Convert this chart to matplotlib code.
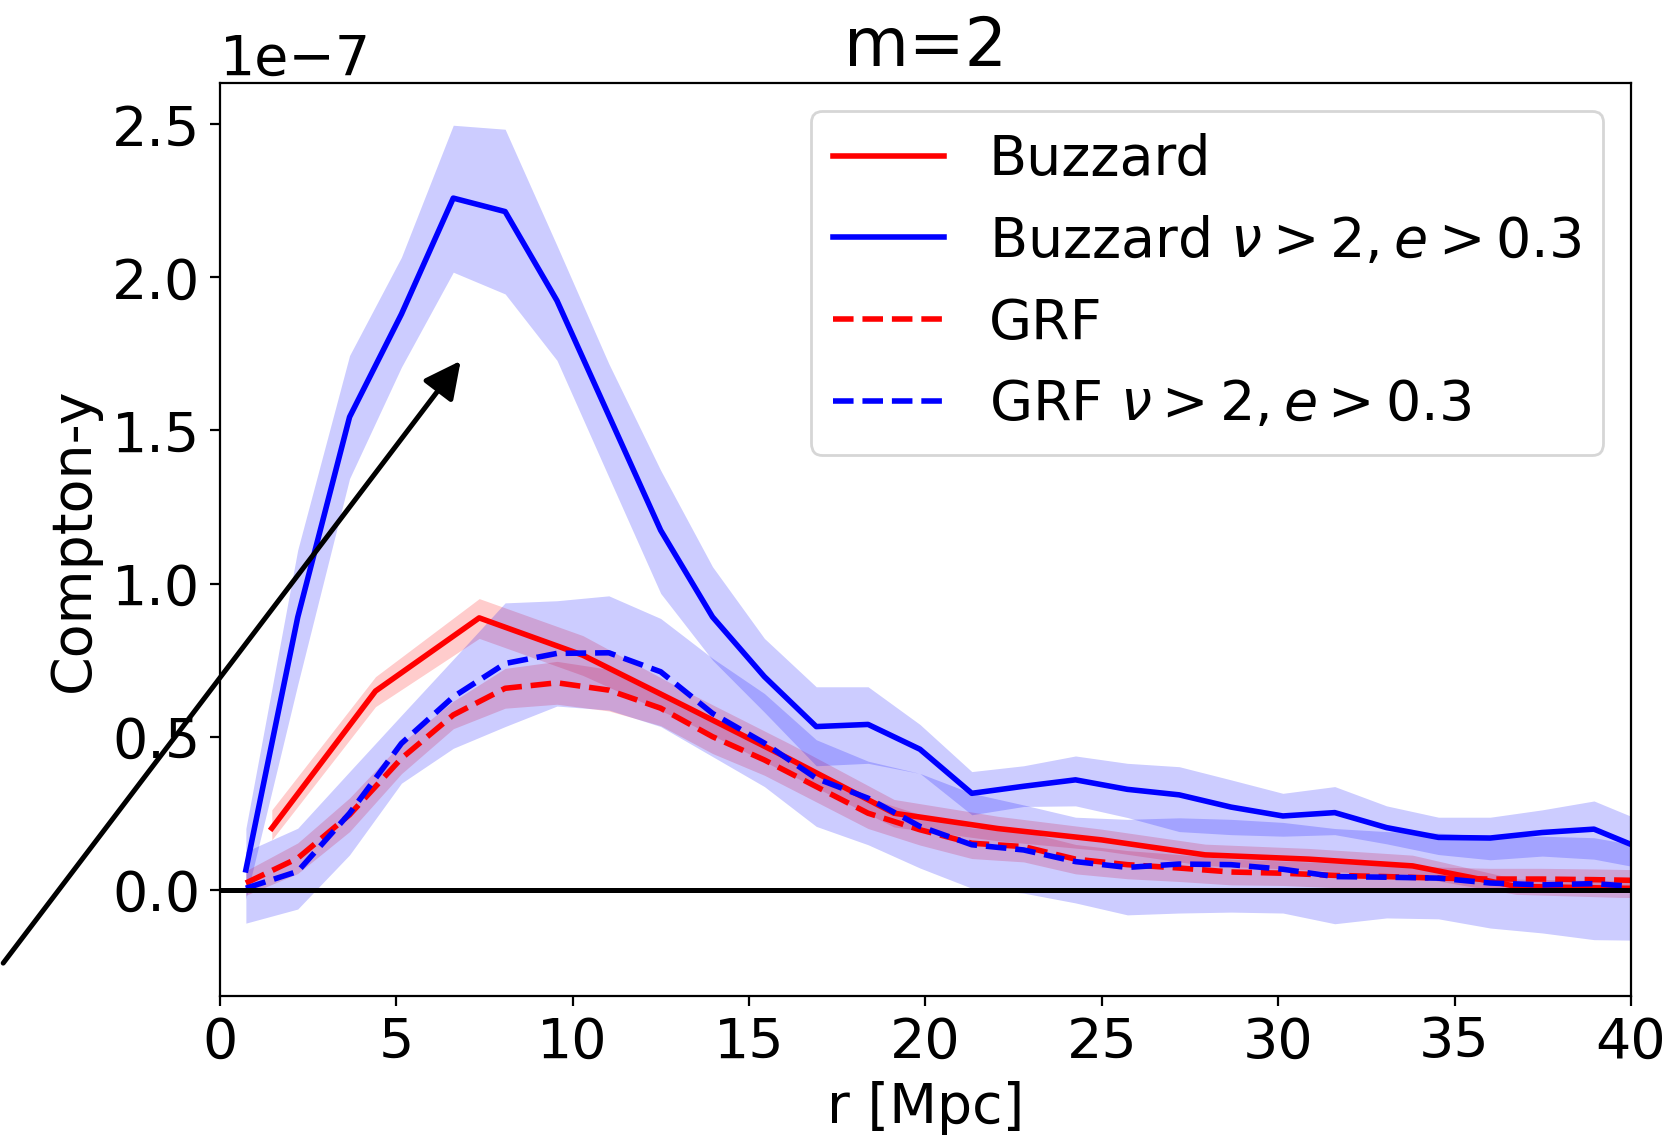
import numpy as np
import matplotlib
matplotlib.use("Agg")
import matplotlib.pyplot as plt

# ---- data (Compton-y in units of 1e-7) ----
r_fine = [0.735, 2.205, 3.675, 5.145, 6.615, 8.085, 9.555, 11.025, 12.495, 13.965,
          15.435, 16.905, 18.375, 19.845, 21.315, 22.785, 24.255, 25.725, 27.195,
          28.665, 30.135, 31.605, 33.075, 34.545, 36.015, 37.485, 38.955, 40.425]
r_coarse = [1.47, 4.41, 7.35, 10.29, 13.23, 16.17, 19.11, 22.05, 24.99, 27.93,
            30.87, 33.81, 36.75, 39.69, 42.63]

buz = [0.201, 0.649, 0.888, 0.766, 0.597, 0.426, 0.25, 0.2, 0.163, 0.114,
       0.1, 0.078, 0.011, 0.005, 0.003]
buz_hi = [0.261, 0.696, 0.951, 0.83, 0.647, 0.476, 0.295, 0.24, 0.198, 0.149,
          0.135, 0.113, 0.035, 0.03, 0.028]
buz_lo = [0.163, 0.598, 0.821, 0.70, 0.547, 0.376, 0.205, 0.16, 0.128, 0.079,
          0.065, 0.043, -0.015, -0.025, -0.027]

buz_sel = [0.065, 0.89, 1.544, 1.88, 2.259, 2.215, 1.924, 1.549, 1.174, 0.891,
           0.696, 0.533, 0.54, 0.459, 0.315, 0.338, 0.359, 0.328, 0.31,
           0.27, 0.241, 0.252, 0.203, 0.171, 0.169, 0.187, 0.198, 0.128]
buz_sel_hi = [0.2, 1.11, 1.745, 2.066, 2.497, 2.484, 2.104, 1.718, 1.37, 1.055,
              0.821, 0.663, 0.663, 0.54, 0.386, 0.405, 0.437, 0.413, 0.402,
              0.359, 0.315, 0.337, 0.274, 0.237, 0.237, 0.261, 0.29, 0.22]
buz_sel_lo = [-0.03, 0.67, 1.343, 1.707, 2.017, 1.946, 1.729, 1.348, 0.968, 0.75,
              0.58, 0.405, 0.413, 0.38, 0.245, 0.272, 0.274, 0.236, 0.19,
              0.18, 0.175, 0.18, 0.15, 0.115, 0.098, 0.11, 0.1, 0.068]

grf = [0.022, 0.103, 0.245, 0.429, 0.571, 0.658, 0.676, 0.652, 0.593, 0.5,
       0.424, 0.337, 0.25, 0.196, 0.152, 0.141, 0.1, 0.082, 0.071,
       0.058, 0.054, 0.047, 0.043, 0.038, 0.035, 0.035, 0.033, 0.03]
grf_err = [0.04, 0.05, 0.055, 0.05, 0.045, 0.065, 0.07, 0.068, 0.057, 0.055,
           0.05, 0.05, 0.05, 0.05, 0.05, 0.05, 0.048, 0.046, 0.044,
           0.042, 0.04, 0.04, 0.038, 0.036, 0.035, 0.035, 0.035, 0.035]

grf_sel = [0.005, 0.06, 0.25, 0.478, 0.63, 0.739, 0.772, 0.774, 0.712, 0.576,
           0.479, 0.364, 0.299, 0.207, 0.147, 0.13, 0.092, 0.073, 0.084,
           0.082, 0.067, 0.043, 0.041, 0.038, 0.022, 0.016, 0.02, 0.008]
grf_sel_hi = [0.125, 0.201, 0.386, 0.57, 0.753, 0.937, 0.944, 0.96, 0.886, 0.756,
              0.641, 0.49, 0.42, 0.38, 0.315, 0.277, 0.237, 0.23, 0.235,
              0.23, 0.22, 0.2, 0.19, 0.185, 0.175, 0.175, 0.17, 0.14]
grf_sel_lo = [-0.109, -0.063, 0.114, 0.348, 0.462, 0.533, 0.6, 0.587, 0.533, 0.435,
              0.337, 0.207, 0.147, 0.071, 0.005, -0.011, -0.043, -0.082, -0.076,
              -0.073, -0.076, -0.111, -0.092, -0.095, -0.125, -0.141, -0.163, -0.165]

labels = ["Buzzard", r"Buzzard $\nu>2, e>0.3$", "GRF", r"GRF $\nu>2, e>0.3$"]

scale = 1e-7
def s(a):
    return np.asarray(a) * scale

LW = 2.0
plt.rcParams['font.size'] = 20
fig = plt.figure(figsize=(8.325, 5.715), dpi=200)
ax = fig.add_axes([0.1321, 0.1286, 0.8474, 0.7988])

ax.plot(r_coarse, s(buz), color='red', lw=LW, label=labels[0])
ax.fill_between(r_coarse, s(buz_lo), s(buz_hi), color='red', alpha=0.2, lw=0)

ax.plot(r_fine, s(buz_sel), color='blue', lw=LW, label=labels[1])
ax.fill_between(r_fine, s(buz_sel_lo), s(buz_sel_hi), color='blue', alpha=0.2, lw=0)

grf_a = np.asarray(grf); grf_e = np.asarray(grf_err)
ax.plot(r_fine, s(grf), color='red', lw=LW, ls='--', label=labels[2])
ax.fill_between(r_fine, s(grf_a - grf_e), s(grf_a + grf_e), color='red', alpha=0.2, lw=0)

ax.plot(r_fine, s(grf_sel), color='blue', lw=LW, ls='--', label=labels[3])
ax.fill_between(r_fine, s(grf_sel_lo), s(grf_sel_hi), color='blue', alpha=0.2, lw=0)

ax.axhline(0, color='black', lw=1.8)

ax.set_xlim(0, 40)
ax.set_ylim(-0.347e-7, 2.635e-7)
ax.set_xlabel("r [Mpc]")
ax.set_ylabel("Compton-y")
ax.set_title("m=2")
ax.legend(loc='upper right')

ax.annotate("", xy=(6.92, 1.742e-7), xytext=(-6.24, -0.254e-7),
            xycoords='data', textcoords='data', annotation_clip=False,
            arrowprops=dict(arrowstyle='-|>', color='black', lw=1.8,
                            mutation_scale=28))

fig.savefig("out.png", dpi=200)
